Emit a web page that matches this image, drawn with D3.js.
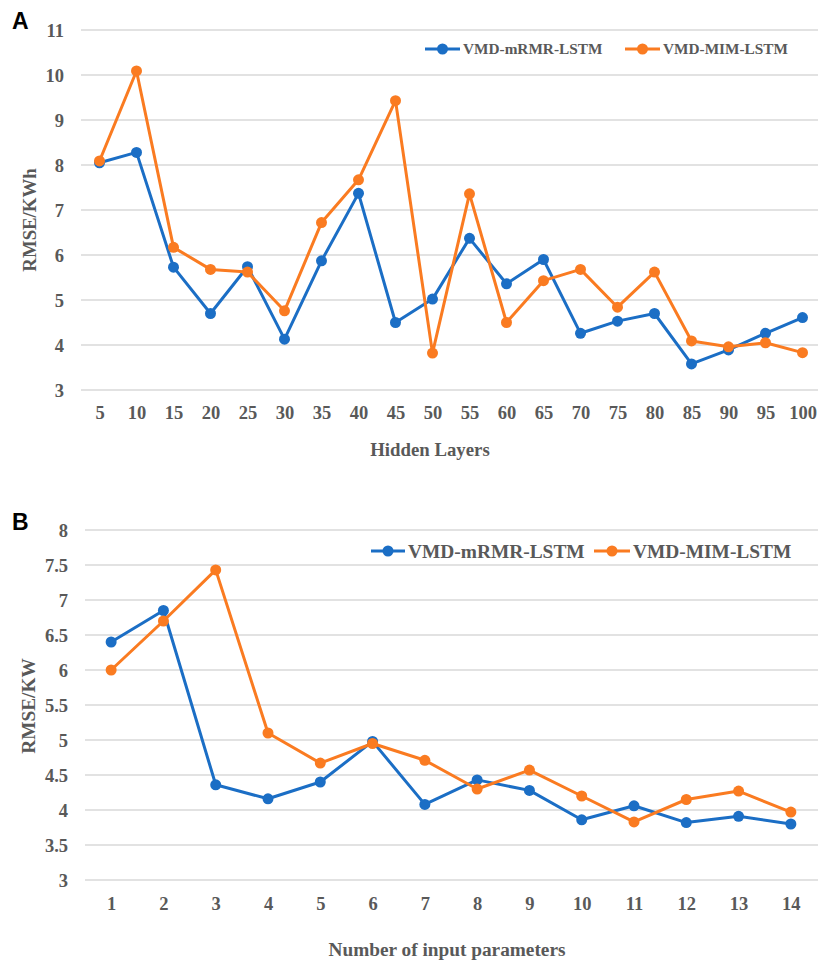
<!DOCTYPE html>
<html>
<head>
<meta charset="utf-8">
<script src="https://cdn.jsdelivr.net/npm/d3@7"></script>
<style>
  html, body { margin: 0; padding: 0; background: #fff; }
  svg { display: block; }
  text { font-family: "Liberation Serif", "Times New Roman", serif; font-weight: bold; fill: #595959; }
  .panel-label { font-family: "Liberation Sans", Arial, sans-serif; fill: #000; }
</style>
</head>
<body>
<svg id="chart" width="818" height="962"></svg>
<script>
// ---- Panel A: RMSE vs number of hidden layers ----
const hiddenLayers = [5, 10, 15, 20, 25, 30, 35, 40, 45, 50, 55, 60, 65, 70, 75, 80, 85, 90, 95, 100];
const hiddenMrmr = [8.05, 8.28, 5.73, 4.70, 5.74, 4.13, 5.87, 7.37, 4.50, 5.02, 6.37, 5.36, 5.90, 4.26, 4.53, 4.70, 3.58, 3.89, 4.26, 4.61];
const hiddenMim  = [8.09, 10.09, 6.17, 5.68, 5.62, 4.76, 6.72, 7.67, 9.43, 3.82, 7.36, 4.50, 5.43, 5.68, 4.84, 5.62, 4.09, 3.96, 4.05, 3.83];
const hiddenTicks = [3, 4, 5, 6, 7, 8, 9, 10, 11];

// ---- Panel B: RMSE vs number of input parameters ----
const inputParams = [1, 2, 3, 4, 5, 6, 7, 8, 9, 10, 11, 12, 13, 14];
const inputMrmr = [6.40, 6.85, 4.36, 4.16, 4.40, 4.98, 4.08, 4.43, 4.28, 3.86, 4.06, 3.82, 3.91, 3.80];
const inputMim  = [6.00, 6.70, 7.43, 5.10, 4.67, 4.95, 4.71, 4.30, 4.57, 4.20, 3.83, 4.15, 4.27, 3.97];
const inputTicks = [3, 3.5, 4, 4.5, 5, 5.5, 6, 6.5, 7, 7.5, 8];

const seriesNames = ["VMD-mRMR-LSTM", "VMD-MIM-LSTM"];
const seriesColors = ["#1b6ec5", "#fa7b21"];

const svg = d3.select("#chart");

function drawPanel(cfg) {
  const g = svg.append("g");
  const x = d3.scalePoint().domain(cfg.categories).range([cfg.left, cfg.right]).padding(0.5);
  const y = d3.scaleLinear().domain(cfg.yDomain).range([cfg.bottom, cfg.top]);

  // horizontal gridlines
  g.append("g").selectAll("line").data(cfg.yTicks).join("line")
    .attr("x1", cfg.left).attr("x2", cfg.gridRight)
    .attr("y1", d => y(d)).attr("y2", d => y(d))
    .attr("stroke", "#d9d9d9").attr("stroke-width", 1.5);

  // y axis tick labels
  const yAxis = d3.axisLeft(y).tickValues(cfg.yTicks).tickFormat(d3.format("~g"))
    .tickSize(0).tickPadding(0);
  const ya = g.append("g").attr("transform", `translate(${cfg.yLabelX},0)`).call(yAxis);
  ya.select(".domain").remove();
  ya.selectAll("text").attr("font-size", cfg.tickSize).attr("dy", "0.33em")
    .style("font-family", "Liberation Serif, serif").style("font-weight", "bold").attr("fill", "#595959");

  // x axis tick labels
  const xAxis = d3.axisBottom(x).tickSize(0).tickPadding(0);
  const xa = g.append("g").attr("transform", `translate(0,${cfg.xLabelY})`).call(xAxis);
  xa.select(".domain").remove();
  xa.selectAll("text").attr("font-size", cfg.tickSize).attr("dy", "0")
    .style("font-family", "Liberation Serif, serif").style("font-weight", "bold").attr("fill", "#595959");

  // lines and markers
  const line = d3.line().x(d => x(d[0])).y(d => y(d[1]));
  cfg.series.forEach((vals, i) => {
    const pts = cfg.categories.map((c, k) => [c, vals[k]]);
    g.append("path").datum(pts).attr("d", line)
      .attr("fill", "none").attr("stroke", seriesColors[i]).attr("stroke-width", 3)
      .attr("stroke-linejoin", "round");
    g.append("g").selectAll("circle").data(pts).join("circle")
      .attr("cx", d => x(d[0])).attr("cy", d => y(d[1])).attr("r", 5.5)
      .attr("fill", seriesColors[i]);
  });

  // legend
  cfg.legend.forEach((lg, i) => {
    const lgG = g.append("g");
    lgG.append("line").attr("x1", lg.x1).attr("x2", lg.x2).attr("y1", cfg.legendY).attr("y2", cfg.legendY)
      .attr("stroke", seriesColors[i]).attr("stroke-width", 3);
    lgG.append("circle").attr("cx", (lg.x1 + lg.x2) / 2).attr("cy", cfg.legendY).attr("r", 5.5)
      .attr("fill", seriesColors[i]);
    lgG.append("text").attr("x", lg.tx).attr("y", cfg.legendY).attr("dy", "0.34em")
      .attr("font-size", cfg.legendSize).text(seriesNames[i]);
  });

  // axis titles
  g.append("text").attr("x", cfg.xTitleX).attr("y", cfg.xTitleY).attr("text-anchor", "middle")
    .attr("font-size", cfg.titleSize).text(cfg.xTitle);
  g.append("text").attr("transform", `translate(${cfg.yTitleX},${cfg.yTitleY}) rotate(-90)`)
    .attr("text-anchor", "middle").attr("font-size", cfg.titleSize).text(cfg.yTitle);

  // panel letter
  g.append("text").attr("class", "panel-label").attr("x", 12).attr("y", cfg.letterY)
    .attr("font-size", 23).text(cfg.letter);
}

drawPanel({
  categories: hiddenLayers, series: [hiddenMrmr, hiddenMim],
  left: 81, right: 821, gridRight: 818, top: 30, bottom: 390,
  yDomain: [3, 11], yTicks: hiddenTicks, yLabelX: 64, xLabelY: 419, tickSize: 18.5,
  legendY: 49, legendSize: 15.3,
  legend: [{ x1: 425, x2: 460, tx: 463 }, { x1: 625, x2: 660, tx: 663 }],
  xTitle: "Hidden Layers", xTitleX: 430, xTitleY: 456,
  yTitle: "RMSE/KWh", yTitleX: 36, yTitleY: 220, titleSize: 18.8,
  letter: "A", letterY: 29
});

drawPanel({
  categories: inputParams, series: [inputMrmr, inputMim],
  left: 85, right: 817, gridRight: 818, top: 530, bottom: 880,
  yDomain: [3, 8], yTicks: inputTicks, yLabelX: 68, xLabelY: 910, tickSize: 18.5,
  legendY: 551, legendSize: 19.4,
  legend: [{ x1: 371, x2: 405, tx: 408 }, { x1: 594, x2: 630, tx: 633 }],
  xTitle: "Number of input parameters", xTitleX: 447, xTitleY: 956,
  yTitle: "RMSE/KW", yTitleX: 35, yTitleY: 706, titleSize: 19.3,
  letter: "B", letterY: 530
});
</script>
</body>
</html>
